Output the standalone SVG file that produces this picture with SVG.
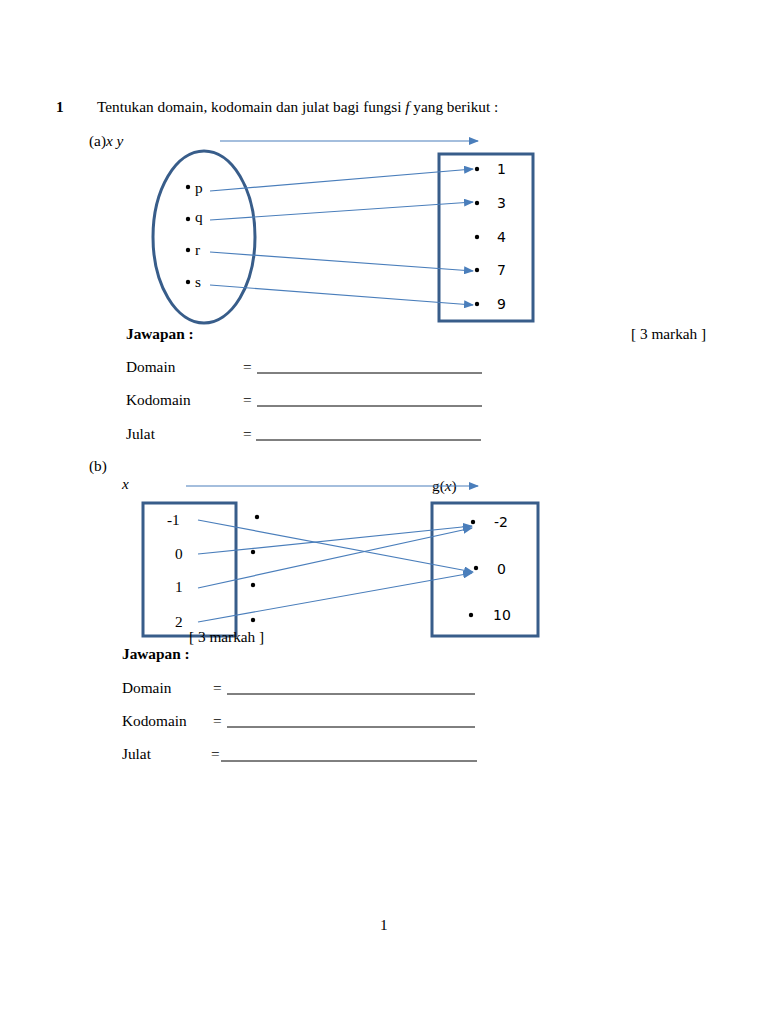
<svg xmlns="http://www.w3.org/2000/svg" width="768" height="1024" viewBox="0 0 768 1024">
<defs>
<marker id="ah" markerWidth="10" markerHeight="8" refX="9" refY="4" orient="auto" markerUnits="userSpaceOnUse">
<path d="M0,0 L10,4 L0,8 Z" fill="#4a7ebb"/>
</marker>
<style>
.t{font-family:"Liberation Serif","Times New Roman",serif;font-size:15.3px;fill:#000}
.b{font-weight:bold}
.i{font-style:italic}
.s{font-family:"DejaVu Sans","Liberation Sans",sans-serif;font-size:14px;fill:#000}
.box{fill:none;stroke:#385d8a;stroke-width:3}
.con{fill:none;stroke:#4a7ebb;stroke-width:1.2;marker-end:url(#ah)}
.ln{stroke:#000;stroke-width:1}
</style>
</defs>
<rect width="768" height="1024" fill="#fff"/>
<g id="title">
<text class="t b" x="56" y="112">1</text>
<text class="t" x="97" y="112">Tentukan domain, kodomain dan julat bagi fungsi <tspan class="i">f</tspan> yang berikut :</text>
</g>
<g id="part-a">
<text class="t" x="89" y="146">(a)<tspan class="i">x y</tspan></text>
<g id="domain-a">
<ellipse cx="204" cy="237" rx="51" ry="86" class="box"/>
<circle cx="188" cy="187" r="2.2"/><text class="t" x="195" y="193">p</text>
<circle cx="188" cy="219" r="2.2"/><text class="t" x="195" y="222">q</text>
<circle cx="188" cy="250" r="2.2"/><text class="t" x="195" y="255">r</text>
<circle cx="188" cy="282" r="2.2"/><text class="t" x="195" y="287">s</text>
</g>
<g id="codomain-a">
<rect x="439" y="154" width="94" height="167" class="box"/>
<circle cx="477" cy="169" r="2.2"/><text class="s" x="497" y="174">1</text>
<circle cx="477" cy="203" r="2.2"/><text class="s" x="497" y="208">3</text>
<circle cx="477" cy="237" r="2.2"/><text class="s" x="497" y="242">4</text>
<circle cx="477" cy="270" r="2.2"/><text class="s" x="497" y="275">7</text>
<circle cx="477" cy="304" r="2.2"/><text class="s" x="497" y="309">9</text>
</g>
<g id="connectors-a">
<line class="con" x1="220" y1="141" x2="478" y2="141"/>
<line class="con" x1="210" y1="191" x2="473" y2="169"/>
<line class="con" x1="210" y1="220" x2="473" y2="202"/>
<line class="con" x1="210" y1="252" x2="473" y2="271"/>
<line class="con" x1="210" y1="285" x2="473" y2="305"/>
</g>
<g id="answer-a">
<text class="t b" x="126" y="339">Jawapan :</text>
<text class="t" x="631" y="339">[ 3 markah ]</text>
<text class="t" x="126" y="372">Domain</text>
<text class="t" x="243" y="372">=</text>
<line class="ln" x1="257" y1="373" x2="482" y2="373"/>
<text class="t" x="126" y="405">Kodomain</text>
<text class="t" x="243" y="405">=</text>
<line class="ln" x1="257" y1="406" x2="482" y2="406"/>
<text class="t" x="126" y="439">Julat</text>
<text class="t" x="243" y="439">=</text>
<line class="ln" x1="256" y1="440" x2="481" y2="440"/>
</g>
</g>
<g id="part-b">
<text class="t" x="89" y="471">(b)</text>
<text class="t i" x="122" y="489">x</text>
<text class="t" x="432" y="491">g(<tspan class="i">x</tspan>)</text>
<g id="domain-b">
<rect x="143" y="503" width="93" height="133" class="box"/>
<text class="t" x="167" y="525">-1</text>
<text class="t" x="175" y="559">0</text>
<text class="t" x="175" y="592">1</text>
<text class="t" x="175" y="627">2</text>
<circle cx="257" cy="517" r="2.2"/>
<circle cx="253" cy="552" r="2.2"/>
<circle cx="253" cy="585" r="2.2"/>
<circle cx="253" cy="620" r="2.2"/>
</g>
<g id="codomain-b">
<rect x="432" y="503" width="106" height="133" class="box"/>
<circle cx="473" cy="522" r="2.2"/><text class="s" x="494" y="527">-2</text>
<circle cx="476" cy="568" r="2.2"/><text class="s" x="497" y="574">0</text>
<circle cx="471" cy="615" r="2.2"/><text class="s" x="493" y="620">10</text>
</g>
<g id="connectors-b">
<line class="con" x1="186" y1="486" x2="478" y2="486"/>
<line class="con" x1="198" y1="520" x2="473" y2="572"/>
<line class="con" x1="198" y1="554" x2="472" y2="526"/>
<line class="con" x1="198" y1="588" x2="472" y2="528"/>
<line class="con" x1="198" y1="622" x2="472" y2="573"/>
</g>
<text class="t" x="189" y="642">[ 3 markah ]</text>
<g id="answer-b">
<text class="t b" x="122" y="659">Jawapan :</text>
<text class="t" x="122" y="693">Domain</text>
<text class="t" x="213" y="693">=</text>
<line class="ln" x1="227" y1="694" x2="475" y2="694"/>
<text class="t" x="122" y="726">Kodomain</text>
<text class="t" x="213" y="726">=</text>
<line class="ln" x1="227" y1="727" x2="475" y2="727"/>
<text class="t" x="122" y="759">Julat</text>
<text class="t" x="211" y="759">=</text>
<line class="ln" x1="221" y1="761" x2="477" y2="761"/>
</g>
</g>
<text class="t" x="380" y="930">1</text>
</svg>
